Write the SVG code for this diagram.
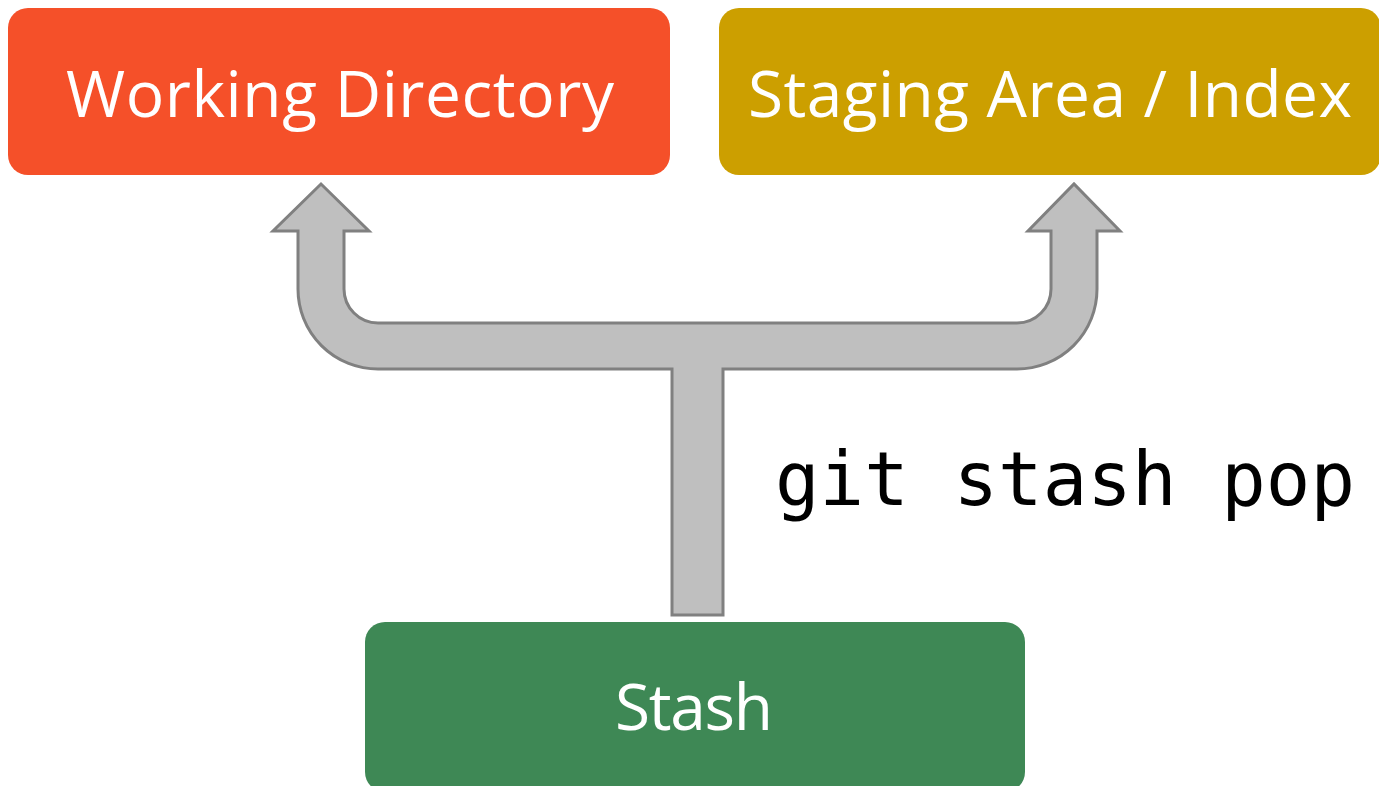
<svg xmlns="http://www.w3.org/2000/svg" width="1379" height="786" viewBox="0 0 1379 786">
<style>
.lbl{font-family:"Open Sans","Liberation Sans",sans-serif;fill:#fff;text-anchor:middle;font-size:64px}
.arr{fill:#BFBFBF;stroke:#808080;stroke-width:3;stroke-linejoin:miter}
</style>
<rect width="1379" height="786" fill="#fff"/>
<g id="connectors">
<path class="arr" d="M672,615 L672,369 L378,369 A80,80 0 0 1 298,289 L298,231 L273,231 L321,184 L369,231 L344,231 L344,289 A34,34 0 0 0 378,323 L1017,323 A34,34 0 0 0 1051,289 L1051,231 L1028,231 L1074,184 L1120,231 L1097,231 L1097,289 A80,80 0 0 1 1017,369 L723,369 L723,615 Z"/>
<text x="775" y="505" font-family="DejaVu Sans Mono,Liberation Mono,monospace" font-size="74" fill="#000" textLength="580">git stash pop</text>
</g>
<g id="working">
<rect x="8" y="8" width="662" height="167" rx="20" fill="#F55029"/>
<text class="lbl" x="340" y="117" textLength="548">Working Directory</text>
</g>
<g id="staging">
<rect x="719" y="8" width="662" height="167" rx="20" fill="#CC9F00"/>
<text class="lbl" x="1050" y="117" textLength="604">Staging Area / Index</text>
</g>
<g id="stash">
<rect x="365" y="622" width="660" height="170" rx="20" fill="#3E8855"/>
<text class="lbl" x="694" y="730" textLength="158">Stash</text>
</g>
</svg>
